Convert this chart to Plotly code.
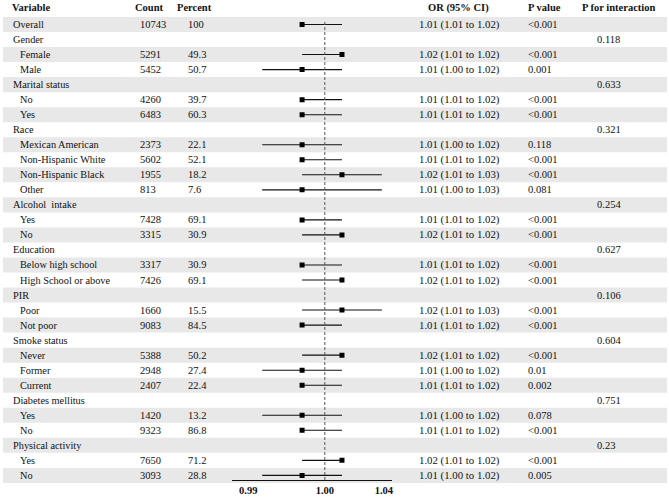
import plotly.graph_objects as go

# rows of the table, top to bottom (level 0 = group heading, 1 = subgroup)
labels = ["Overall", "Gender", "Female", "Male", "Marital status", "No", "Yes",
          "Race", "Mexican American", "Non-Hispanic White", "Non-Hispanic Black", "Other",
          "Alcohol  intake", "Yes", "No", "Education", "Below high school",
          "High School or above", "PIR", "Poor", "Not poor", "Smoke status",
          "Never", "Former", "Current", "Diabetes mellitus", "Yes", "No",
          "Physical activity", "Yes", "No"]
levels = [0, 0, 1, 1, 0, 1, 1, 0, 1, 1, 1, 1, 0, 1, 1, 0, 1, 1, 0, 1, 1, 0,
          1, 1, 1, 0, 1, 1, 0, 1, 1]
counts = [10743, None, 5291, 5452, None, 4260, 6483, None, 2373, 5602, 1955, 813,
          None, 7428, 3315, None, 3317, 7426, None, 1660, 9083, None,
          5388, 2948, 2407, None, 1420, 9323, None, 7650, 3093]
percents = [100, None, 49.3, 50.7, None, 39.7, 60.3, None, 22.1, 52.1, 18.2, 7.6,
            None, 69.1, 30.9, None, 30.9, 69.1, None, 15.5, 84.5, None,
            50.2, 27.4, 22.4, None, 13.2, 86.8, None, 71.2, 28.8]
or_est = [1.01, None, 1.02, 1.01, None, 1.01, 1.01, None, 1.01, 1.01, 1.02, 1.01,
          None, 1.01, 1.02, None, 1.01, 1.02, None, 1.02, 1.01, None,
          1.02, 1.01, 1.01, None, 1.01, 1.01, None, 1.02, 1.01]
or_lo = [1.01, None, 1.01, 1.00, None, 1.01, 1.01, None, 1.00, 1.01, 1.01, 1.00,
         None, 1.01, 1.01, None, 1.01, 1.01, None, 1.01, 1.01, None,
         1.01, 1.00, 1.01, None, 1.00, 1.01, None, 1.01, 1.00]
or_hi = [1.02, None, 1.02, 1.02, None, 1.02, 1.02, None, 1.02, 1.02, 1.03, 1.03,
         None, 1.02, 1.02, None, 1.02, 1.02, None, 1.03, 1.02, None,
         1.02, 1.02, 1.02, None, 1.02, 1.02, None, 1.02, 1.02]
p_values = ["<0.001", "", "<0.001", "0.001", "", "<0.001", "<0.001", "", "0.118",
            "<0.001", "<0.001", "0.081", "", "<0.001", "<0.001", "", "<0.001",
            "<0.001", "", "<0.001", "<0.001", "", "<0.001", "0.01", "0.002", "",
            "0.078", "<0.001", "", "<0.001", "0.005"]
p_interaction = ["", "0.118", "", "", "0.633", "", "", "0.321", "", "", "", "",
                 "0.254", "", "", "0.627", "", "", "0.106", "", "", "0.604",
                 "", "", "", "0.751", "", "", "0.23", "", ""]

headers = ["Variable", "Count", "Percent", "OR (95% CI)", "P value", "P for interaction"]
tick_pos = [0.9965, 1.0157, 1.0305]
tick_labels = ["0.99", "1.00", "1.04"]
ref_line = 1.0157

W, H = 669, 498
FONT = "Liberation Serif, Times New Roman, serif"
BAND = "#e8e8e8"

def px(x):
    return x / W

rows = list(range(1, len(labels) + 1))
fig = go.Figure()

# alternating grey bands
for r in rows:
    if r % 2 == 1:
        fig.add_shape(type="rect", xref="paper", yref="y", x0=px(3), x1=1,
                      y0=r - 0.5, y1=r + 0.5, fillcolor=BAND, line_width=0, layer="below")

# whiskers
wx, wy = [], []
for r, lo, hi in zip(rows, or_lo, or_hi):
    if lo is None:
        continue
    wx += [lo, hi, None]
    wy += [r, r, None]
fig.add_trace(go.Scatter(x=wx, y=wy, mode="lines", line=dict(color="#111", width=1.1),
                         hoverinfo="skip", showlegend=False))
fig.add_trace(go.Scatter(x=[e for e in or_est if e is not None],
                         y=[r for r, e in zip(rows, or_est) if e is not None],
                         mode="markers", marker=dict(symbol="square", size=5, color="#000"),
                         showlegend=False))

# dashed reference line
fig.add_shape(type="line", xref="x", yref="paper", x0=ref_line, x1=ref_line,
              y0=18 / H, y1=1 - 21 / H, line=dict(color="#555", width=1, dash="3px,2px"))

def txt(x, y, s, bold=False, size=10.5):
    fig.add_annotation(x=px(x), y=y, xref="paper", yref="y", text=s, showarrow=False,
                       xanchor="left", yanchor="middle",
                       font=dict(family=FONT, size=size, color="#111",
                                 weight="bold" if bold else "normal"))

# header row
hdr_x = [10, 133, 176, 427, 528, 582]
for x, h in zip(hdr_x, headers):
    txt(x, -0.1, h, bold=True)

for r, lab, lv, c, p, e, lo, hi, pv, pi in zip(rows, labels, levels, counts, percents,
                                               or_est, or_lo, or_hi, p_values, p_interaction):
    txt(11 if lv == 0 else 18, r, lab, size=10.3)
    if c is not None:
        txt(138, r, str(c))
        txt(187, r, f"{p:g}")
    if e is not None:
        txt(418, r, f"{e:.2f} ({lo:.2f} to {hi:.2f})", size=10.8)
    if pv:
        txt(528, r, pv)
    if pi:
        txt(597, r, pi)

row_h = 15.03
top = 1 - 24.5 / row_h
bottom = 1 + (H - 24.5) / row_h
fig.update_layout(
    width=W, height=H, margin=dict(l=0, r=0, t=0, b=0),
    paper_bgcolor="white", plot_bgcolor="rgba(0,0,0,0)",
    xaxis=dict(domain=[px(233), px(393)], range=[0.9925, 1.0325], anchor="free",
               position=18 / H, showgrid=False, zeroline=False, showline=True,
               linecolor="#111", linewidth=1, tickvals=tick_pos, ticktext=tick_labels,
               ticks="", tickfont=dict(family=FONT, size=10.5, color="#111", weight="bold")),
    yaxis=dict(range=[bottom, top], visible=False, domain=[0, 1]),
)

# page has a default body margin; drop it so the figure sits at the window origin
fig.write_html("out.html", config={"displayModeBar": False},
               post_script="document.body.style.margin='0';")
